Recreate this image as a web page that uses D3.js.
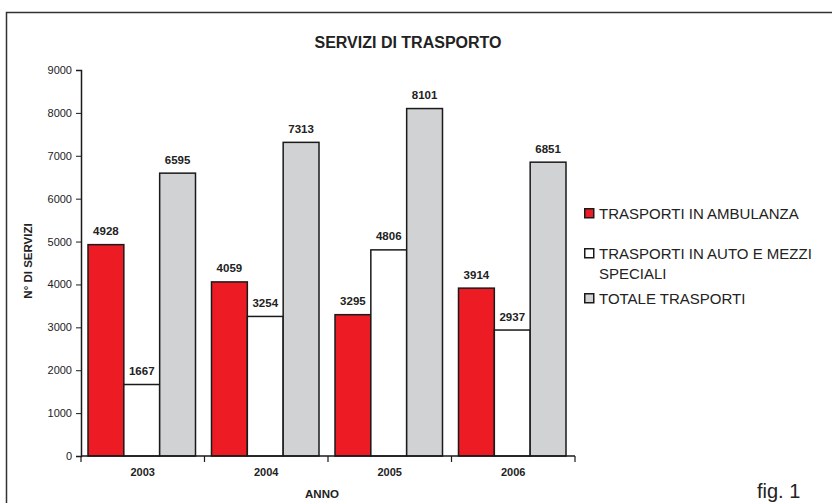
<!DOCTYPE html>
<html>
<head>
<meta charset="utf-8">
<script src="https://cdn.jsdelivr.net/npm/d3@7"></script>
<style>
  body { margin: 0; background: #fff; }
  svg text { font-family: "Liberation Sans", Arial, sans-serif; fill: #222; }
</style>
</head>
<body>
<div id="chart"></div>
<script>
// data
var years = ["2003", "2004", "2005", "2006"];
var ambulanza = [4928, 4059, 3295, 3914];
var autoMezzi = [1667, 3254, 4806, 2937];
var totale = [6595, 7313, 8101, 6851];
var seriesNames = ["TRASPORTI IN AMBULANZA", "TRASPORTI IN AUTO E MEZZI|SPECIALI", "TOTALE TRASPORTI"];
var seriesColors = ["#ed1c24", "#ffffff", "#d1d2d4"];
var yTicks = [0, 1000, 2000, 3000, 4000, 5000, 6000, 7000, 8000, 9000];

var W = 832, H = 503;
var margin = {left: 81, top: 70, right: 257, bottom: 47};

var svg = d3.select("#chart").append("svg")
    .attr("width", W)
    .attr("height", H);

// outer frame (open on right and bottom)
svg.append("path")
    .attr("d", "M6.5,503 L6.5,12.5 L832,12.5")
    .attr("fill", "none")
    .attr("stroke", "#333")
    .attr("stroke-width", 1.5);

var plotW = W - margin.left - margin.right;
var plotH = H - margin.top - margin.bottom;

var x = d3.scaleBand()
    .domain(years)
    .range([0, plotW])
    .paddingInner(0)
    .paddingOuter(0);

var x1 = d3.scaleBand()
    .domain([0, 1, 2])
    .range([7, x.bandwidth() - 9])
    .padding(0);

var y = d3.scaleLinear()
    .domain([0, 9000])
    .range([plotH, 0]);

var g = svg.append("g")
    .attr("transform", "translate(" + margin.left + "," + margin.top + ")");

// title
svg.append("text")
    .attr("x", 408)
    .attr("y", 48)
    .attr("text-anchor", "middle")
    .style("font-size", "16px")
    .style("font-weight", "bold")
    .text("SERVIZI DI TRASPORTO");

var data = years.map(function(yr, i) {
    return {year: yr, values: [ambulanza[i], autoMezzi[i], totale[i]]};
});

var groups = g.selectAll("g.year")
    .data(data)
    .enter().append("g")
    .attr("class", "year")
    .attr("transform", function(d) { return "translate(" + x(d.year) + ",0)"; });

groups.selectAll("rect")
    .data(function(d) { return d.values; })
    .enter().append("rect")
    .attr("x", function(d, i) { return x1(i); })
    .attr("y", function(d) { return y(d); })
    .attr("width", x1.bandwidth())
    .attr("height", function(d) { return plotH - y(d); })
    .attr("fill", function(d, i) { return seriesColors[i]; })
    .attr("stroke", "#1a1a1a")
    .attr("stroke-width", 1.5);

groups.selectAll("text.val")
    .data(function(d) { return d.values; })
    .enter().append("text")
    .attr("class", "val")
    .attr("x", function(d, i) { return x1(i) + x1.bandwidth() / 2; })
    .attr("y", function(d) { return y(d) - 9.5; })
    .attr("text-anchor", "middle")
    .style("font-size", "11.5px")
    .style("font-weight", "bold")
    .text(function(d) { return d; });

// y axis
var yAxis = d3.axisLeft(y).tickValues(yTicks).tickFormat(d3.format("d")).tickSize(5).tickPadding(4);
var yg = g.append("g").call(yAxis);
yg.select(".domain").attr("stroke", "#1a1a1a").attr("stroke-width", 1.5);
yg.selectAll(".tick line").attr("stroke", "#1a1a1a");
yg.selectAll("text").style("font-size", "11px").style("font-family", "'Liberation Sans', Arial, sans-serif").attr("fill", "#222");

// x axis: ticks at category boundaries
var xg = g.append("g").attr("transform", "translate(0," + plotH + ")");
xg.append("line")
    .attr("x1", 0).attr("x2", plotW)
    .attr("stroke", "#1a1a1a").attr("stroke-width", 1.5);
var bounds = years.map(function(d) { return x(d); }).concat([plotW]);
xg.selectAll("line.tk")
    .data(bounds)
    .enter().append("line")
    .attr("class", "tk")
    .attr("x1", function(d) { return d; })
    .attr("x2", function(d) { return d; })
    .attr("y1", 0).attr("y2", 6)
    .attr("stroke", "#1a1a1a").attr("stroke-width", 1.2);
xg.selectAll("text")
    .data(years)
    .enter().append("text")
    .attr("x", function(d) { return x(d) + x.bandwidth() / 2; })
    .attr("y", 20)
    .attr("text-anchor", "middle")
    .style("font-size", "11px")
    .style("font-weight", "bold")
    .text(function(d) { return d; });

// axis titles
svg.append("text")
    .attr("x", 322)
    .attr("y", 498)
    .attr("text-anchor", "middle")
    .style("font-size", "11.5px")
    .style("font-weight", "bold")
    .text("ANNO");

svg.append("text")
    .attr("transform", "translate(32,261) rotate(-90)")
    .attr("text-anchor", "middle")
    .style("font-size", "11.5px")
    .style("font-weight", "bold")
    .text("N° DI SERVIZI");

// legend
var legendY = [208, 248, 293];
var legend = svg.selectAll("g.legend")
    .data(seriesNames)
    .enter().append("g")
    .attr("class", "legend")
    .attr("transform", function(d, i) { return "translate(584," + legendY[i] + ")"; });

legend.append("rect")
    .attr("x", 0.75).attr("y", 0.75)
    .attr("width", 9).attr("height", 9)
    .attr("fill", function(d, i) { return seriesColors[i]; })
    .attr("stroke", "#1a1a1a")
    .attr("stroke-width", 1.5);

legend.each(function(d) {
    var t = d3.select(this).append("text")
        .attr("x", 15)
        .attr("y", 10.5)
        .style("font-size", "15px");
    d.split("|").forEach(function(line, li) {
        t.append("tspan")
            .attr("x", 15)
            .attr("dy", li === 0 ? 0 : 20)
            .text(line);
    });
});

svg.append("text")
    .attr("x", 757)
    .attr("y", 498)
    .style("font-size", "20px")
    .text("fig. 1");
</script>
</body>
</html>
